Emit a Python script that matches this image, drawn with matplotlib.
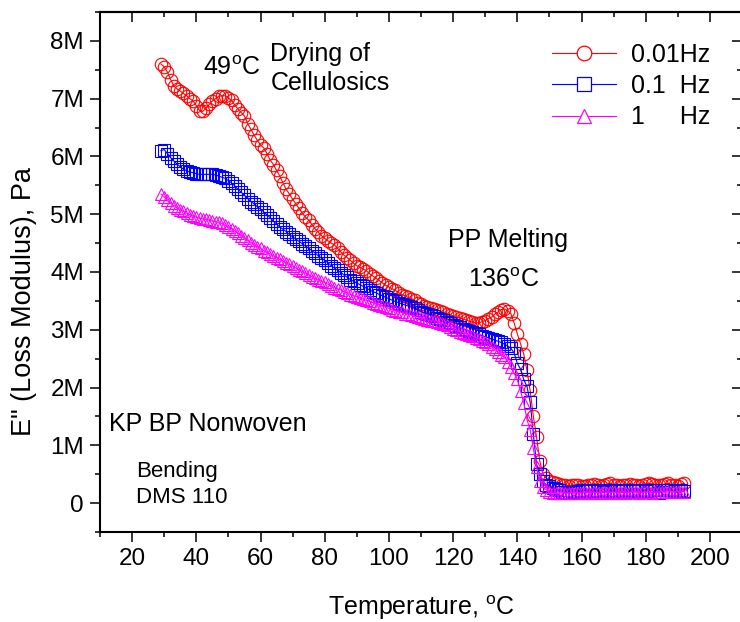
import numpy as np
import matplotlib
matplotlib.use("Agg")
import matplotlib.pyplot as plt
from matplotlib.lines import Line2D
from matplotlib.ticker import MultipleLocator, FuncFormatter

plt.rcParams['font.family'] = ['Liberation Sans', 'DejaVu Sans']
plt.rcParams['mathtext.fontset'] = 'custom'
plt.rcParams['mathtext.rm'] = 'Liberation Sans'
plt.rcParams['mathtext.it'] = 'Liberation Sans:italic'

# temperature (C), one reading per degree
temp_c = [
    29, 30, 31, 32, 33, 34, 35, 36, 37, 38,
    39, 40, 41, 42, 43, 44, 45, 46, 47, 48,
    49, 50, 51, 52, 53, 54, 55, 56, 57, 58,
    59, 60, 61, 62, 63, 64, 65, 66, 67, 68,
    69, 70, 71, 72, 73, 74, 75, 76, 77, 78,
    79, 80, 81, 82, 83, 84, 85, 86, 87, 88,
    89, 90, 91, 92, 93, 94, 95, 96, 97, 98,
    99, 100, 101, 102, 103, 104, 105, 106, 107, 108,
    109, 110, 111, 112, 113, 114, 115, 116, 117, 118,
    119, 120, 121, 122, 123, 124, 125, 126, 127, 128,
    129, 130, 131, 132, 133, 134, 135, 136, 137, 138,
    139, 140, 141, 142, 143, 144, 145, 146, 147, 148,
    149, 150, 151, 152, 153, 154, 155, 156, 157, 158,
    159, 160, 161, 162, 163, 164, 165, 166, 167, 168,
    169, 170, 171, 172, 173, 174, 175, 176, 177, 178,
    179, 180, 181, 182, 183, 184, 185, 186, 187, 188,
    189, 190, 191, 192,
]

# loss modulus in MPa
e_001hz = [
    7.60, 7.55, 7.46, 7.33, 7.22, 7.17, 7.13, 7.09, 7.05, 7.00,
    6.96, 6.88, 6.79, 6.78, 6.83, 6.90, 6.96, 7.00, 7.04, 7.05,
    7.05, 7.01, 6.97, 6.89, 6.82, 6.76, 6.70, 6.57, 6.47, 6.37,
    6.28, 6.20, 6.15, 6.05, 5.94, 5.86, 5.76, 5.66, 5.54, 5.43,
    5.35, 5.26, 5.18, 5.10, 5.02, 4.95, 4.90, 4.82, 4.75, 4.69,
    4.63, 4.58, 4.54, 4.50, 4.47, 4.41, 4.35, 4.29, 4.25, 4.20,
    4.15, 4.11, 4.08, 4.05, 4.02, 3.97, 3.93, 3.89, 3.85, 3.81,
    3.77, 3.74, 3.71, 3.68, 3.64, 3.61, 3.59, 3.56, 3.54, 3.51,
    3.47, 3.44, 3.41, 3.39, 3.38, 3.36, 3.34, 3.32, 3.30, 3.28,
    3.26, 3.24, 3.22, 3.21, 3.19, 3.17, 3.15, 3.13, 3.12, 3.12,
    3.14, 3.16, 3.19, 3.22, 3.27, 3.31, 3.35, 3.36, 3.33, 3.28,
    3.12, 2.93, 2.76, 2.58, 2.30, 1.95, 1.50, 1.14, 0.73, 0.50,
    0.43, 0.39, 0.36, 0.34, 0.33, 0.32, 0.31, 0.30, 0.31, 0.32,
    0.31, 0.30, 0.30, 0.31, 0.32, 0.33, 0.31, 0.30, 0.31, 0.33,
    0.34, 0.32, 0.31, 0.30, 0.31, 0.32, 0.33, 0.32, 0.31, 0.30,
    0.31, 0.33, 0.34, 0.33, 0.32, 0.31, 0.32, 0.33, 0.34, 0.32,
    0.31, 0.30, 0.33, 0.34,
]

e_01hz = [
    6.10, 6.12, 6.05, 5.98, 5.92, 5.87, 5.82, 5.78, 5.75, 5.73,
    5.72, 5.70, 5.69, 5.69, 5.69, 5.69, 5.69, 5.68, 5.66, 5.64,
    5.62, 5.58, 5.54, 5.49, 5.43, 5.38, 5.33, 5.27, 5.22, 5.18,
    5.13, 5.09, 5.04, 4.99, 4.94, 4.88, 4.83, 4.78, 4.74, 4.70,
    4.65, 4.61, 4.57, 4.53, 4.49, 4.45, 4.41, 4.37, 4.33, 4.28,
    4.24, 4.20, 4.16, 4.11, 4.07, 4.03, 3.99, 3.95, 3.91, 3.87,
    3.84, 3.81, 3.78, 3.75, 3.72, 3.69, 3.66, 3.64, 3.61, 3.59,
    3.56, 3.54, 3.51, 3.49, 3.47, 3.45, 3.43, 3.41, 3.39, 3.37,
    3.34, 3.31, 3.29, 3.27, 3.25, 3.23, 3.21, 3.19, 3.17, 3.14,
    3.11, 3.08, 3.06, 3.04, 3.02, 3.00, 2.98, 2.96, 2.94, 2.92,
    2.90, 2.88, 2.86, 2.84, 2.82, 2.80, 2.78, 2.75, 2.72, 2.68,
    2.60, 2.42, 2.32, 2.14, 2.02, 1.75, 1.20, 0.67, 0.50, 0.38,
    0.32, 0.29, 0.27, 0.25, 0.22, 0.20, 0.19, 0.18, 0.19, 0.20,
    0.21, 0.22, 0.21, 0.22, 0.23, 0.22, 0.21, 0.22, 0.19, 0.21,
    0.22, 0.23, 0.22, 0.21, 0.22, 0.23, 0.22, 0.21, 0.22, 0.23,
    0.22, 0.21, 0.22, 0.23, 0.22, 0.18, 0.20, 0.22, 0.23, 0.22,
    0.21, 0.22, 0.23, 0.21,
]

e_1hz = [
    5.35, 5.30, 5.24, 5.19, 5.15, 5.11, 5.08, 5.05, 5.02, 4.99,
    4.97, 4.95, 4.93, 4.92, 4.91, 4.90, 4.88, 4.87, 4.86, 4.84,
    4.81, 4.78, 4.75, 4.71, 4.67, 4.63, 4.59, 4.55, 4.51, 4.47,
    4.44, 4.41, 4.37, 4.34, 4.31, 4.28, 4.25, 4.22, 4.19, 4.16,
    4.13, 4.10, 4.07, 4.04, 4.01, 3.98, 3.95, 3.92, 3.89, 3.87,
    3.84, 3.82, 3.79, 3.76, 3.73, 3.71, 3.69, 3.66, 3.64, 3.61,
    3.59, 3.57, 3.55, 3.53, 3.51, 3.49, 3.47, 3.45, 3.43, 3.41,
    3.39, 3.37, 3.35, 3.33, 3.31, 3.30, 3.28, 3.27, 3.25, 3.23,
    3.22, 3.20, 3.19, 3.17, 3.16, 3.15, 3.13, 3.12, 3.10, 3.08,
    3.05, 3.01, 2.99, 2.97, 2.95, 2.93, 2.91, 2.89, 2.86, 2.84,
    2.81, 2.78, 2.75, 2.71, 2.66, 2.61, 2.56, 2.53, 2.45, 2.36,
    2.25, 2.14, 1.94, 1.74, 1.45, 1.27, 0.95, 0.62, 0.39, 0.28,
    0.23, 0.20, 0.18, 0.17, 0.17, 0.18, 0.17, 0.18, 0.18, 0.17,
    0.18, 0.18, 0.19, 0.18, 0.18, 0.19, 0.18, 0.18, 0.19, 0.18,
    0.19, 0.19, 0.18, 0.19, 0.19, 0.18, 0.19, 0.19, 0.19, 0.18,
    0.19, 0.19, 0.19, 0.18, 0.19, 0.19, 0.20, 0.19, 0.19, 0.20,
    0.19, 0.20, 0.20, 0.20,
]

series = [
    ("0.01Hz", e_001hz, "#ff0000", "o", 9),
    ("0.1  Hz", e_01hz, "#0000ff", "s", 8),
    ("1     Hz", e_1hz, "#ff00ff", "^", 9),
]

fig = plt.figure(figsize=(7.4, 6.22), dpi=100)
ax = fig.add_axes([100/740, 1 - 532/622, 642/740, 520/622])

handles = []
for label, vals, col, mk, ms in series:
    ax.plot(temp_c, vals, "-", color=col, lw=0.8, marker=mk, ms=ms,
            mfc="none", mec=col, mew=0.8)
    handles.append(Line2D([], [], color=col, lw=0.8, marker=mk, ms=ms + 1.5,
                          mfc="white", mec=col, mew=0.9, label=label))

ax.set_xlim(10, 210)
ax.set_ylim(-0.5, 8.5)
ax.xaxis.set_major_locator(MultipleLocator(20))
ax.xaxis.set_minor_locator(MultipleLocator(10))
ax.yaxis.set_major_locator(MultipleLocator(1))
ax.yaxis.set_minor_locator(MultipleLocator(0.5))
ax.yaxis.set_major_formatter(FuncFormatter(lambda v, p: "0" if abs(v) < 1e-9 else "%dM" % round(v)))
ax.tick_params(which="major", direction="out", length=7.5, width=1.1, labelsize=17.5, pad=4)
ax.tick_params(which="minor", direction="out", length=3.8, width=1.1)
for sp in ax.spines.values():
    sp.set_linewidth(1.5)

top = ax.secondary_xaxis("top")
top.xaxis.set_major_locator(MultipleLocator(20))
top.xaxis.set_minor_locator(MultipleLocator(10))
top.tick_params(which="major", direction="in", length=7.5, width=1.1, labeltop=False)
top.tick_params(which="minor", direction="in", length=3.8, width=1.1)
top.spines["top"].set_linewidth(1.5)

right = ax.secondary_yaxis("right")
right.yaxis.set_major_locator(MultipleLocator(1))
right.yaxis.set_minor_locator(MultipleLocator(0.5))
right.tick_params(which="major", direction="in", length=7.5, width=1.1, labelright=False)
right.tick_params(which="minor", direction="in", length=3.8, width=1.1)
right.spines["right"].set_linewidth(1.5)

fig.text(421/740, 1 - 615/622, "Temperature, $^{\\mathregular{o}}$C", fontsize=18,
         ha="center", va="baseline")
fig.text(24/740, 1 - 302/622, 'E" (Loss Modulus), Pa', fontsize=19.5,
         rotation=90, ha="center", va="center")

ax.text(42.2, 7.41, "49$^{\\mathregular{o}}$C", fontsize=18, va="baseline")
ax.text(63.1, 7.65, "Drying of", fontsize=18, va="baseline")
ax.text(63.1, 7.15, "Cellulosics", fontsize=18, va="baseline")
ax.text(118.4, 4.44, "PP Melting", fontsize=18, va="baseline")
ax.text(124.7, 3.74, "136$^{\\mathregular{o}}$C", fontsize=18, va="baseline")
ax.text(12.9, 1.25, "KP BP Nonwoven", fontsize=18, va="baseline")
ax.text(21.25, 0.455, "Bending", fontsize=16, va="baseline")
ax.text(21.25, 0.01, "DMS 110", fontsize=16, va="baseline")

ax.legend(handles=handles, loc="upper right", bbox_to_anchor=(733/740, 1 - 20/622),
          bbox_transform=fig.transFigure, frameon=False, fontsize=18,
          handlelength=2.55, handletextpad=0.6, labelspacing=0.3, borderpad=0.4)

fig.savefig("out.png", dpi=100)
